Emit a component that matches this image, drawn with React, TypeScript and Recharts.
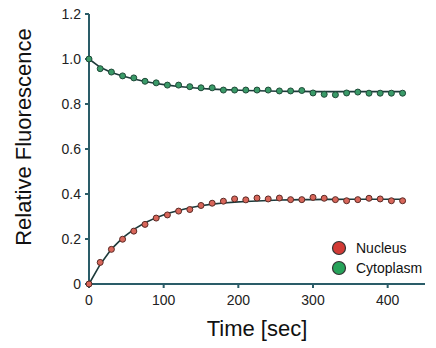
import React from "react";
import { ComposedChart, Line, XAxis, YAxis } from "recharts";

const times = [0, 15, 30, 45, 60, 75, 90, 105, 120, 135, 150, 165, 180, 195, 210, 225, 240, 255, 270, 285, 300, 315, 330, 345, 360, 375, 390, 405, 420];
const nucleus = [0, 0.096, 0.154, 0.199, 0.235, 0.265, 0.293, 0.307, 0.324, 0.331, 0.349, 0.359, 0.368, 0.378, 0.374, 0.382, 0.378, 0.382, 0.375, 0.375, 0.385, 0.381, 0.375, 0.37, 0.375, 0.381, 0.378, 0.37, 0.37];
const nucleusFit = [0, 0.087, 0.155, 0.205, 0.243, 0.272, 0.295, 0.313, 0.327, 0.339, 0.348, 0.355, 0.36, 0.364, 0.367, 0.369, 0.371, 0.373, 0.374, 0.375, 0.375, 0.376, 0.376, 0.377, 0.377, 0.377, 0.377, 0.377, 0.377];
const cytoplasm = [1.0, 0.957, 0.942, 0.925, 0.916, 0.901, 0.894, 0.884, 0.884, 0.877, 0.872, 0.872, 0.862, 0.862, 0.862, 0.862, 0.862, 0.858, 0.858, 0.86, 0.849, 0.843, 0.841, 0.849, 0.853, 0.848, 0.848, 0.848, 0.848];
const cytoplasmFit = [1.0, 0.963, 0.94, 0.924, 0.911, 0.9, 0.891, 0.884, 0.878, 0.873, 0.869, 0.866, 0.864, 0.862, 0.86, 0.859, 0.858, 0.857, 0.856, 0.856, 0.855, 0.855, 0.855, 0.855, 0.855, 0.855, 0.855, 0.855, 0.855];
const xTicks = [0, 100, 200, 300, 400];
const yTicks = [0, 0.2, 0.4, 0.6, 0.8, 1.0, 1.2];
const seriesNames = ["Nucleus", "Cytoplasm"];

const data = times.map((t, i) => ({
  t,
  nucleus: nucleus[i],
  nucleusFit: nucleusFit[i],
  cytoplasm: cytoplasm[i],
  cytoplasmFit: cytoplasmFit[i],
}));

const AXIS = "#2a5c68";
const FONT = "Liberation Sans, Arial, sans-serif";

const LegendBox = () => (
  <div style={{ position: "absolute", left: 331, top: 238, fontFamily: FONT, fontSize: 14, color: "#111" }}>
    {seriesNames.map((n, i) => (
      <div key={n} style={{ display: "flex", alignItems: "center", height: 20 }}>
        <svg width={16} height={16} style={{ marginRight: 9 }}>
          <circle cx={8} cy={8} r={6.5} fill={i === 0 ? "#d23a35" : "#27a35a"} stroke="#333" strokeWidth={1.2} />
        </svg>
        <span>{n}</span>
      </div>
    ))}
  </div>
);

export default function App() {
  return (
    <div style={{ position: "absolute", left: 0, top: 0, width: 436, height: 348, background: "#fff" }}>
      <ComposedChart
        width={436}
        height={348}
        data={data}
        margin={{ top: 14, right: 11, left: 0, bottom: 34 }}
      >
        <XAxis
          dataKey="t"
          type="number"
          domain={[0, 450]}
          ticks={xTicks}
          stroke={AXIS}
          strokeWidth={2}
          tickSize={4}
          tickMargin={7}
          height={30}
          tick={{ fill: "#222", fontSize: 14, fontFamily: FONT }}
          label={{ value: "Time [sec]", position: "insideBottom", offset: -22, fill: "#111", fontSize: 22, fontFamily: FONT }}
        />
        <YAxis
          type="number"
          domain={[0, 1.2]}
          ticks={yTicks}
          width={89}
          stroke={AXIS}
          strokeWidth={2}
          tickSize={4}
          tickMargin={4}
          tickFormatter={(v: number) => (v === 0 ? "0" : v.toFixed(1))}
          tick={{ fill: "#222", fontSize: 14, fontFamily: FONT }}
          label={{ value: "Relative Fluorescence", angle: -90, position: "insideLeft", offset: 23, dy: -12, fill: "#111", fontSize: 22, fontFamily: FONT, style: { textAnchor: "middle" } }}
        />
        <Line dataKey="cytoplasmFit" stroke="#1d3a3a" strokeWidth={1.6} dot={false} isAnimationActive={false} legendType="none" />
        <Line dataKey="nucleusFit" stroke="#1d3a3a" strokeWidth={1.6} dot={false} isAnimationActive={false} legendType="none" />
        <Line dataKey="cytoplasm" stroke="none" dot={{ r: 3, fill: "#3a9a68", stroke: "#1f4a38", strokeWidth: 1 }} isAnimationActive={false} />
        <Line dataKey="nucleus" stroke="none" dot={{ r: 3, fill: "#d8665a", stroke: "#5a2a25", strokeWidth: 1 }} isAnimationActive={false} />
      </ComposedChart>
      <LegendBox />
    </div>
  );
}
